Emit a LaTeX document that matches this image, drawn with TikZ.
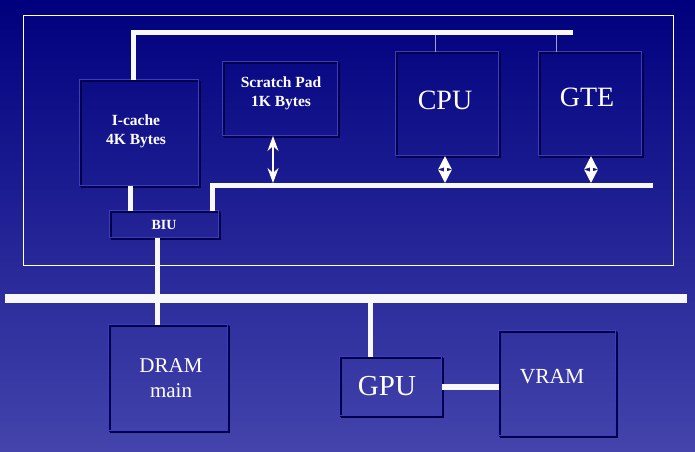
\documentclass[tikz,border=0pt]{standalone}
\usepackage{fontspec}
\setmainfont{Liberation Serif}
\usetikzlibrary{arrows.meta}
\definecolor{bgtop}{RGB}{0,0,126}
\definecolor{bgbot}{RGB}{68,68,172}
\definecolor{boxlight}{RGB}{60,60,190}
\definecolor{boxdark}{RGB}{0,0,90}
\definecolor{shadowc}{RGB}{0,0,60}
\definecolor{buswhite}{RGB}{248,248,250}
\definecolor{thinline}{RGB}{160,160,210}
\tikzset{
  blk/.style={draw=boxdark, line width=0.9pt, inner sep=0pt, outer sep=0pt,
    preaction={draw=shadowc, line width=1.6pt, transform canvas={shift={(1.6pt,-1.6pt)}}},
    postaction={draw=boxlight, line width=0.6pt, transform canvas={shift={(-0.9pt,0.9pt)}}}},
  lbl/.style={text=white, align=center, inner sep=0pt},
  bus/.style={draw=buswhite, line width=5pt},
  mainbus/.style={draw=buswhite, line width=9pt},
  tap/.style={draw=thinline, line width=1pt},
  thinarr/.style={draw=white, line width=1.2pt, {Stealth[length=15pt,width=11pt]}-{Stealth[length=15pt,width=11pt]}},
  fatarr/.style={draw=white, line width=3pt, {Stealth[length=13pt,width=13pt,inset=2pt]}-{Stealth[length=13pt,width=13pt,inset=2pt]}}
}
\begin{document}
\begin{tikzpicture}[x=1pt,y=-1pt]
\useasboundingbox (0,0) rectangle (695,451);
\shade[top color=bgtop, bottom color=bgbot] (0,0) rectangle (695,451);
% inner frame
\draw[white, line width=0.9pt] (23,15) rectangle (673,265);

% boxes
\node[blk, minimum width=119pt, minimum height=106pt] (icache) at (139.5,133) {};
\node[blk, minimum width=115pt, minimum height=74pt] (scratch) at (280.5,99) {};
\node[blk, minimum width=103pt, minimum height=104pt] (cpu) at (447.5,104) {};
\node[blk, minimum width=103pt, minimum height=104pt] (gte) at (590.5,104) {};
\node[blk, minimum width=109pt, minimum height=27pt] (biu) at (164.5,224.5) {};
\node[blk, minimum width=119pt, minimum height=106pt] (dram) at (168.5,378) {};
\node[blk, minimum width=102pt, minimum height=59pt] (gpu) at (391,386.5) {};
\node[blk, minimum width=117pt, minimum height=105pt] (vram) at (557.5,383.5) {};

% labels
\node[lbl, font=\bfseries\fontsize{15.5}{19}\selectfont] (icachet) at (136,131) {I-cache\\4K Bytes};
\node[lbl, font=\bfseries\fontsize{15.5}{19}\selectfont] (scratcht) at (281,93) {Scratch Pad\\1K Bytes};
\node[lbl, font=\bfseries\fontsize{14}{17}\selectfont] (biut) at (164,225) {BIU};
\node[lbl, font=\fontsize{28}{30}\selectfont] (cput) at (445,100) {CPU};
\node[lbl, font=\fontsize{28}{30}\selectfont] (gtet) at (587,97) {GTE};
\node[lbl, font=\fontsize{21}{25}\selectfont] (dramt) at (171,378) {DRAM\\main};
\node[lbl, font=\fontsize{29}{31}\selectfont] (gput) at (387,386) {GPU};
\node[lbl, font=\fontsize{21.5}{24}\selectfont] (vramt) at (552,377) {VRAM};

% coordinates
\coordinate (tbL) at (133,32);
\coordinate (tbR) at (573,32);
\coordinate (cpuT) at (435,32);
\coordinate (gteT) at (556,32);
\coordinate (lbL) at (212,185);
\coordinate (lbR) at (653,185);
\coordinate (icx) at (130,200);
\coordinate (spx) at (273,183);
\coordinate (cpx) at (445,183);
\coordinate (gtx) at (591,183);
\coordinate (bix) at (157,300);
\coordinate (mbL) at (5,298);
\coordinate (mbR) at (687,298);
\coordinate (gpx) at (370,298);

% thin taps
\draw[tap] (cpuT) -- (cpu.north -| cpuT);
\draw[tap] (gteT) -- (gte.north -| gteT);
% top bus
\draw[bus] (tbR) -- (tbL) -- (tbL |- icache.north);
% lower bus
\draw[bus] (lbR) -- (lbL) -- (lbL |- biu.north);
% I-cache to BIU
\draw[bus] (icache.south -| icx) -- (biu.north -| icx);
% arrows
\draw[thinarr] (scratch.south -| spx) -- (spx);
\draw[fatarr] (cpu.south -| cpx) -- (cpx);
\draw[fatarr] (gte.south -| gtx) -- (gtx);
% BIU to DRAM through main bus
\draw[bus] (biu.south -| bix) -- (dram.north -| bix);
% main bus
\draw[mainbus] (mbL) -- (mbR);
% GPU
\draw[bus] (gpx) -- (gpu.north -| gpx);
\draw[draw=buswhite, line width=6pt] (gpu.east) -- (vram.west |- gpu.east);
\end{tikzpicture}
\end{document}
